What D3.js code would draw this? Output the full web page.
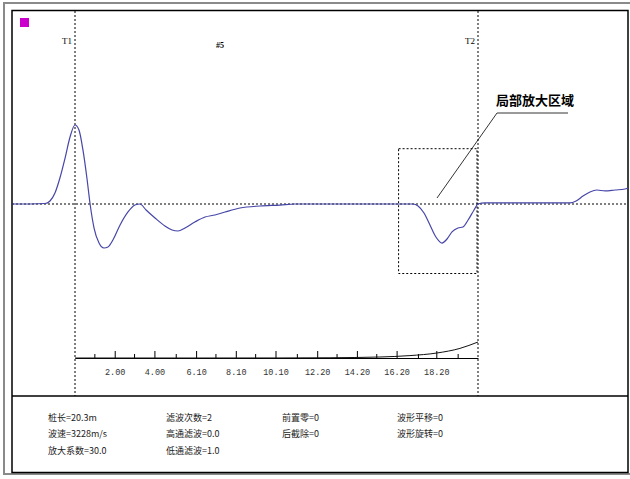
<!DOCTYPE html>
<html>
<head>
<meta charset="utf-8">
<script src="https://cdn.jsdelivr.net/npm/d3@7"></script>
<style>
  body { margin: 0; background: #fff; }
  svg { display: block; }
</style>
</head>
<body>
<div id="chart"></div>
<script>
// pile length (m) between T1 and T2
var pileLength = 20.3

// reflected wave: depth (m) / relative amplitude
var waveDepth = [-3.17, -2.27, -1.51, -1.26, -1.01, -0.76, -0.50, -0.25, 0, 0.20, 0.40, 0.60, 0.76, 0.96,
    1.21, 1.46, 1.66, 1.91, 2.27, 2.67, 3.02, 3.27, 3.58, 4.03, 4.53, 4.89, 5.19, 5.54, 6.04, 6.55,
    7.05, 7.56, 8.31, 9.32, 10.33, 11.08, 17.03, 17.28, 17.58, 17.88, 18.18, 18.49, 18.74, 18.99,
    19.29, 19.54, 19.80, 20.10, 20.30, 20.65, 24.93, 25.24, 25.59, 25.94, 26.29, 26.70, 27.20, 27.70, 27.85]
var waveAmp = [0, 0, 0.006, 0.038, 0.139, 0.329, 0.582, 0.848, 1.0, 0.937, 0.684, 0.329, 0, -0.304,
    -0.494, -0.557, -0.544, -0.456, -0.266, -0.101, -0.013, 0, -0.076, -0.177, -0.278, -0.329, -0.342, -0.304, -0.228, -0.165,
    -0.139, -0.101, -0.051, -0.025, -0.013, 0, 0, -0.025, -0.114, -0.266, -0.418, -0.494, -0.443, -0.354,
    -0.304, -0.291, -0.203, -0.076, 0, 0.013, 0.013, 0.038, 0.101, 0.152, 0.177, 0.165, 0.177, 0.19, 0.203]

// exponential gain curve along the pile
var gainDepth = [0, 6.3, 10.33, 12.84, 15.36, 16.87, 18.23, 19.39, 20.3]
var gainValue = [0, 0, 0.06, 0.25, 1.0, 2.4, 5, 9.6, 16]

// axis ticks
var majorTicks = [2.00, 4.00, 6.10, 8.10, 10.10, 12.20, 14.20, 16.20, 18.20]
var minorTicks = [1.0, 3.0, 5.1, 7.1, 9.1, 11.2, 13.2, 15.2, 17.3, 19.3]

// parameters panel
var paramText = [
    ["桩长=20.3m", "滤波次数=2", "前置零=0", "波形平移=0"],
    ["波速=3228m/s", "高通滤波=0.0", "后截除=0", "波形旋转=0"],
    ["放大系数=30.0", "低通滤波=1.0", "", ""]
]

var width = 630, height = 479

var svg = d3.select("#chart")
    .append("svg")
    .attr("width", width)
    .attr("height", height)

// outer gray frame
svg.append("rect")
    .attr("x", 4).attr("y", 3)
    .attr("width", 640).attr("height", 471)
    .attr("fill", "none")
    .attr("stroke", "#8a8a8a")
    .attr("stroke-width", 2)

// inner black frame
svg.append("rect")
    .attr("x", 12).attr("y", 10.5)
    .attr("width", 616).attr("height", 462)
    .attr("fill", "#fff")
    .attr("stroke", "#000")
    .attr("stroke-width", 1.5)

svg.append("line")
    .attr("x1", 12).attr("x2", 628)
    .attr("y1", 396).attr("y2", 396)
    .attr("stroke", "#000")
    .attr("stroke-width", 1.5)

// magenta marker
svg.append("rect")
    .attr("x", 20).attr("y", 18)
    .attr("width", 9).attr("height", 9)
    .attr("fill", "#cc00cc")

var x = d3.scaleLinear()
    .domain([0, pileLength])
    .range([75, 478])

var y = d3.scaleLinear()
    .domain([-1, 1])
    .range([283, 125])

var yGain = d3.scaleLinear()
    .domain([0, 16])
    .range([358, 342])

var dash = "2,2"

// zero line
svg.append("line")
    .attr("x1", 12).attr("x2", 628)
    .attr("y1", y(0)).attr("y2", y(0))
    .attr("stroke", "#000")
    .attr("stroke-dasharray", dash)

// T1 / T2 markers
var markers = [{name: "T1", d: 0}, {name: "T2", d: pileLength}]
svg.selectAll(".marker")
    .data(markers)
    .enter().append("line")
    .attr("class", "marker")
    .attr("x1", d => x(d.d)).attr("x2", d => x(d.d))
    .attr("y1", 11).attr("y2", 396)
    .attr("stroke", "#000")
    .attr("stroke-dasharray", dash)

svg.selectAll(".markerLabel")
    .data(markers)
    .enter().append("text")
    .attr("class", "markerLabel")
    .attr("x", d => x(d.d) - 3)
    .attr("y", 44)
    .attr("text-anchor", "end")
    .style("font-family", "'Liberation Serif', serif")
    .style("font-size", "9px")
    .text(d => d.name)

svg.append("text")
    .attr("x", 216).attr("y", 48)
    .style("font-family", "'Liberation Serif', serif")
    .style("font-size", "8px")
    .style("font-weight", "bold")
    .text("#5")

// zoom box around the defect
svg.append("rect")
    .attr("x", x(16.3)).attr("y", y(0.7))
    .attr("width", x(20.25) - x(16.3))
    .attr("height", y(-0.88) - y(0.7))
    .attr("fill", "none")
    .attr("stroke", "#000")
    .attr("stroke-dasharray", dash)

// waveform
var wave = waveDepth.map((d, i) => [d, waveAmp[i]])
var line = d3.line()
    .x(d => x(d[0]))
    .y(d => y(d[1]))
    .curve(d3.curveMonotoneX)

svg.append("path")
    .datum(wave)
    .attr("d", line)
    .attr("fill", "none")
    .attr("stroke", "#4646a8")
    .attr("stroke-width", 1.2)

// callout
svg.append("polyline")
    .attr("points", [[437, 198], [497, 113], [568, 113]].join(" "))
    .attr("fill", "none")
    .attr("stroke", "#000")
    .attr("stroke-width", 0.8)

svg.append("text")
    .attr("x", 496).attr("y", 105)
    .style("font-family", "'Noto Sans CJK SC', sans-serif")
    .style("font-size", "13px")
    .style("font-weight", "bold")
    .text("局部放大区域")

// depth axis
var axis = d3.axisBottom(x)
    .tickValues(majorTicks)
    .tickFormat(d3.format(".2f"))
    .tickSizeOuter(0)
    .tickSizeInner(-7)
    .tickPadding(11)

var gAxis = svg.append("g")
    .attr("transform", "translate(0,358)")
    .call(axis)
gAxis.select(".domain").attr("stroke", "#000")
gAxis.selectAll(".tick line").attr("stroke", "#000")
gAxis.selectAll(".tick text")
    .attr("fill", "#333")
    .style("font-family", "'Liberation Mono', monospace")
    .style("font-size", "8.5px")

gAxis.selectAll(".minor")
    .data(minorTicks)
    .enter().append("line")
    .attr("class", "minor")
    .attr("x1", d => x(d)).attr("x2", d => x(d))
    .attr("y1", 0).attr("y2", -4)
    .attr("stroke", "#000")

// gain curve
var gain = gainDepth.map((d, i) => [d, gainValue[i]])
svg.append("path")
    .datum(gain)
    .attr("d", d3.line().x(d => x(d[0])).y(d => yGain(d[1])).curve(d3.curveMonotoneX))
    .attr("fill", "none")
    .attr("stroke", "#111")
    .attr("stroke-width", 1)

// parameters
var colX = [48, 166, 282, 397]
var rowY = [421, 437, 454]
paramText.forEach((row, r) => {
    row.forEach((t, c) => {
        if (!t) return
        svg.append("text")
            .attr("x", colX[c]).attr("y", rowY[r])
            .attr("fill", "#222")
            .style("font-family", "'Noto Sans CJK SC', sans-serif")
            .style("font-size", "9px")
            .text(t)
    })
})
</script>
</body>
</html>
